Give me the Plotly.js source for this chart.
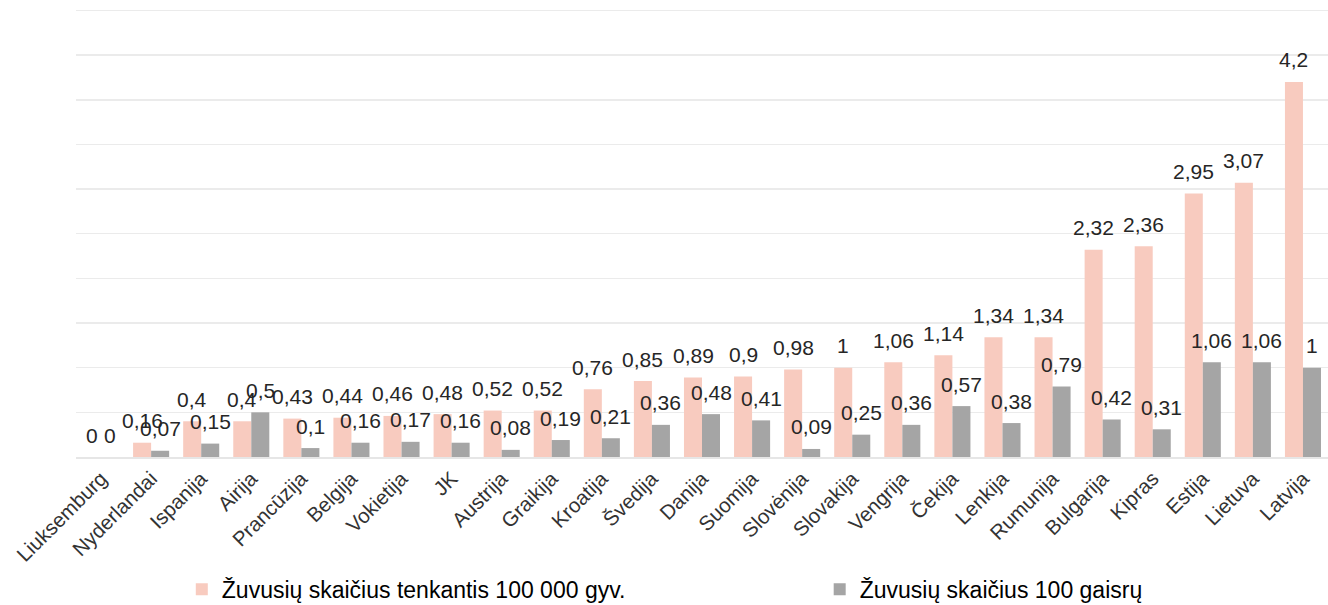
<!DOCTYPE html>
<html>
<head>
<meta charset="utf-8">
<script src="https://cdn.plot.ly/plotly-3.0.1.min.js"></script>
<style>html,body{margin:0;padding:0;background:#fff;}#chart{width:1328px;height:605px;}</style>
</head>
<body>
<div id="chart"></div>
<script>
const categories = ['Liuksemburg','Nyderlandai','Ispanija','Airija','Prancūzija','Belgija','Vokietija','JK','Austrija','Graikija','Kroatija','Švedija','Danija','Suomija','Slovėnija','Slovakija','Vengrija','Čekija','Lenkija','Rumunija','Bulgarija','Kipras','Estija','Lietuva','Latvija'];
const perPopulation = [0,0.16,0.4,0.4,0.43,0.44,0.46,0.48,0.52,0.52,0.76,0.85,0.89,0.9,0.98,1,1.06,1.14,1.34,1.34,2.32,2.36,2.95,3.07,4.2];
const perFires = [0,0.07,0.15,0.5,0.1,0.16,0.17,0.16,0.08,0.19,0.21,0.36,0.48,0.41,0.09,0.25,0.36,0.57,0.38,0.79,0.42,0.31,1.06,1.06,1];
const seriesNames = ['Žuvusių skaičius tenkantis 100 000 gyv.','Žuvusių skaičius 100 gaisrų'];
const gridValues = [0.5,1,1.5,2,2.5,3,3.5,4,4.5,5];

const fmt = v => String(v).replace('.', ',');
const FONT = 'Liberation Sans, Arial, sans-serif';

const traces = [
  {type:'bar', name:seriesNames[0], x:categories, y:perPopulation, marker:{color:'#F8CBBF'}, legend:'legend'},
  {type:'bar', name:seriesNames[1], x:categories, y:perFires, marker:{color:'#A5A5A5'}, legend:'legend2'}
];

const annotations = [];
categories.forEach((c, i) => {
  annotations.push({x:c, y:perPopulation[i], xref:'x', yref:'y', text:fmt(perPopulation[i]), showarrow:false,
    xshift:-9, yshift:22, yanchor:'middle', font:{family:FONT, size:21, color:'#262626'}});
  annotations.push({x:c, y:perFires[i], xref:'x', yref:'y', text:fmt(perFires[i]), showarrow:false,
    xshift:9, yshift:22, yanchor:'middle', font:{family:FONT, size:21, color:'#262626'}});
});

const legendStyle = {orientation:'h', yanchor:'middle', xanchor:'left', y:-0.2935,
  font:{family:FONT, size:23, color:'#000'}, bgcolor:'rgba(0,0,0,0)', itemwidth:30};

const layout = {
  width:1328, height:605,
  margin:{l:76, r:0, t:5.5, b:148, autoexpand:false},
  paper_bgcolor:'#fff', plot_bgcolor:'#fff',
  barmode:'group', bargap:0.28, bargroupgap:0,
  font:{family:FONT, size:16, color:'#404040'},
  xaxis:{type:'category', tickangle:-45, tickfont:{family:FONT, size:20.5, color:'#333333'},
    showgrid:false, showline:true, linecolor:'#e6e6e6', linewidth:1.5, ticks:'', automargin:false},
  yaxis:{range:[0,5.05], tickvals:gridValues, showticklabels:false,
    gridcolor:'#ebebeb', gridwidth:1.5, zeroline:false, ticks:'', automargin:false},
  showlegend:true,
  legend:Object.assign({}, legendStyle, {x:0.0845}),
  legend2:Object.assign({}, legendStyle, {x:0.594}),
  annotations:annotations
};

Plotly.newPlot('chart', traces, layout, {displayModeBar:false, staticPlot:true});
</script>
</body>
</html>
